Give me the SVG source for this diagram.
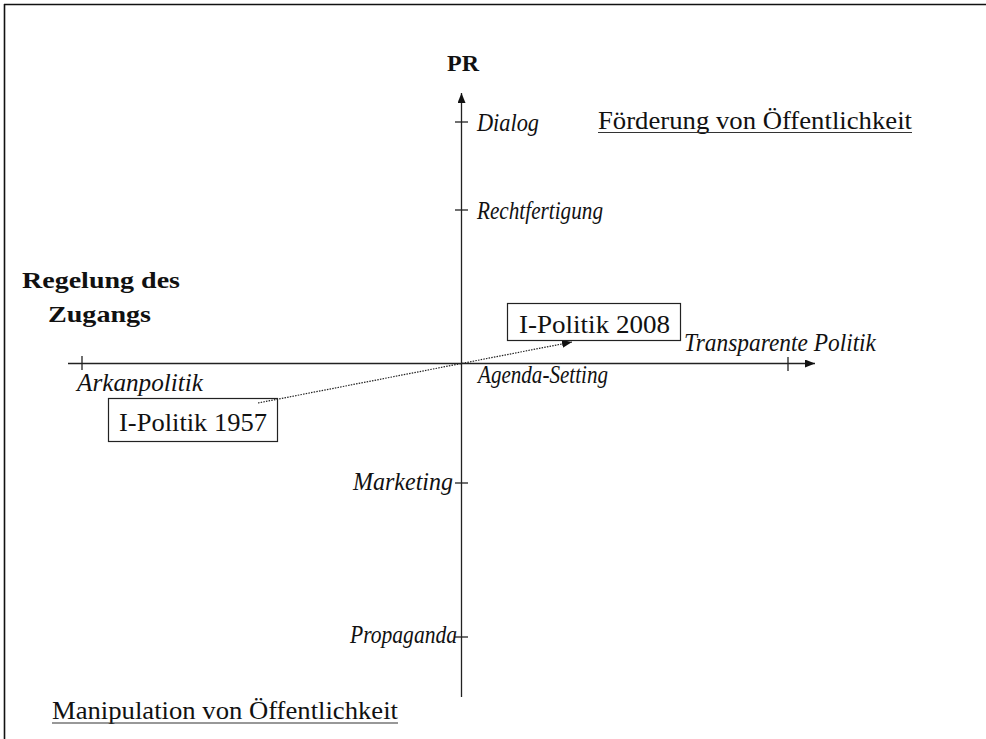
<svg xmlns="http://www.w3.org/2000/svg" width="986" height="739" viewBox="0 0 986 739">
  <style>
    text { font-family: 'Liberation Serif', 'DejaVu Serif', serif; fill: #111; }
    .b { font-weight: bold; font-size: 24px; }
    .i { font-style: italic; font-size: 25px; }
    .r { font-size: 26px; }
    .ax { stroke: #222; stroke-width: 1.3; fill: none; }
    .ul { stroke: #333; stroke-width: 1.2; }
    .box { fill: none; stroke: #222; stroke-width: 1.2; }
  </style>
  <defs>
    <marker id="ah" viewBox="0 0 10 8" refX="10" refY="4" markerWidth="10" markerHeight="8" markerUnits="userSpaceOnUse" orient="auto">
      <path d="M0,0 L10,4 L0,8 Z" fill="#111"/>
    </marker>
  </defs>
  <rect width="986" height="739" fill="#fff"/>
  <g id="frame">
    <line x1="4" y1="4.5" x2="986" y2="4.5" stroke="#111" stroke-width="1.6"/>
    <line x1="4.5" y1="4" x2="4.5" y2="739" stroke="#111" stroke-width="1.6"/>
  </g>
  <g id="axes">
    <line class="ax" x1="461.5" y1="697" x2="461.5" y2="93" marker-end="url(#ah)"/>
    <line class="ax" x1="68" y1="363.5" x2="815" y2="363.5" marker-end="url(#ah)"/>
    <line class="ax" x1="455" y1="122" x2="468" y2="122"/>
    <line class="ax" x1="455" y1="210" x2="468" y2="210"/>
    <line class="ax" x1="455" y1="483" x2="468" y2="483"/>
    <line class="ax" x1="455" y1="637" x2="468" y2="637"/>
    <line class="ax" x1="82" y1="356" x2="82" y2="370"/>
    <line class="ax" x1="788" y1="357" x2="788" y2="371"/>
  </g>
  <g id="axis-titles">
    <text class="b" x="447" y="71">PR</text>
    <text class="b" x="22" y="288" textLength="158" lengthAdjust="spacingAndGlyphs">Regelung des</text>
    <text class="b" x="48" y="322" textLength="103" lengthAdjust="spacingAndGlyphs">Zugangs</text>
  </g>
  <g id="labels">
    <text class="i" x="477" y="131" textLength="62" lengthAdjust="spacingAndGlyphs">Dialog</text>
    <text class="i" x="477" y="219" textLength="126" lengthAdjust="spacingAndGlyphs">Rechtfertigung</text>
    <text class="i" x="684" y="351" textLength="192" lengthAdjust="spacingAndGlyphs">Transparente Politik</text>
    <text class="i" x="478" y="383" textLength="130" lengthAdjust="spacingAndGlyphs">Agenda-Setting</text>
    <text class="i" x="77" y="391" textLength="126" lengthAdjust="spacingAndGlyphs">Arkanpolitik</text>
    <text class="i" x="353" y="490" textLength="100" lengthAdjust="spacingAndGlyphs">Marketing</text>
    <text class="i" x="350" y="643" textLength="107" lengthAdjust="spacingAndGlyphs">Propaganda</text>
  </g>
  <g id="quadrant-foerderung">
    <text class="r" x="598" y="129" textLength="314" lengthAdjust="spacingAndGlyphs">Förderung von Öffentlichkeit</text>
    <line class="ul" x1="598" y1="132.5" x2="912" y2="132.5"/>
  </g>
  <g id="quadrant-manipulation">
    <text class="r" x="52" y="719" textLength="346" lengthAdjust="spacingAndGlyphs">Manipulation von Öffentlichkeit</text>
    <line class="ul" x1="52" y1="723" x2="398" y2="723"/>
  </g>
  <g id="connectors">
    <line x1="258" y1="403" x2="572" y2="342" stroke="#222" stroke-width="1.2" stroke-dasharray="1.5,1.2" marker-end="url(#ah)"/>
  </g>
  <g id="node-2008">
    <rect class="box" x="507.5" y="303.5" width="173" height="37"/>
    <text class="r" x="519" y="333" textLength="151" lengthAdjust="spacingAndGlyphs">I-Politik 2008</text>
  </g>
  <g id="node-1957">
    <rect class="box" x="108.5" y="398.5" width="169" height="43"/>
    <text class="r" x="119" y="431" textLength="148" lengthAdjust="spacingAndGlyphs">I-Politik 1957</text>
  </g>
</svg>
